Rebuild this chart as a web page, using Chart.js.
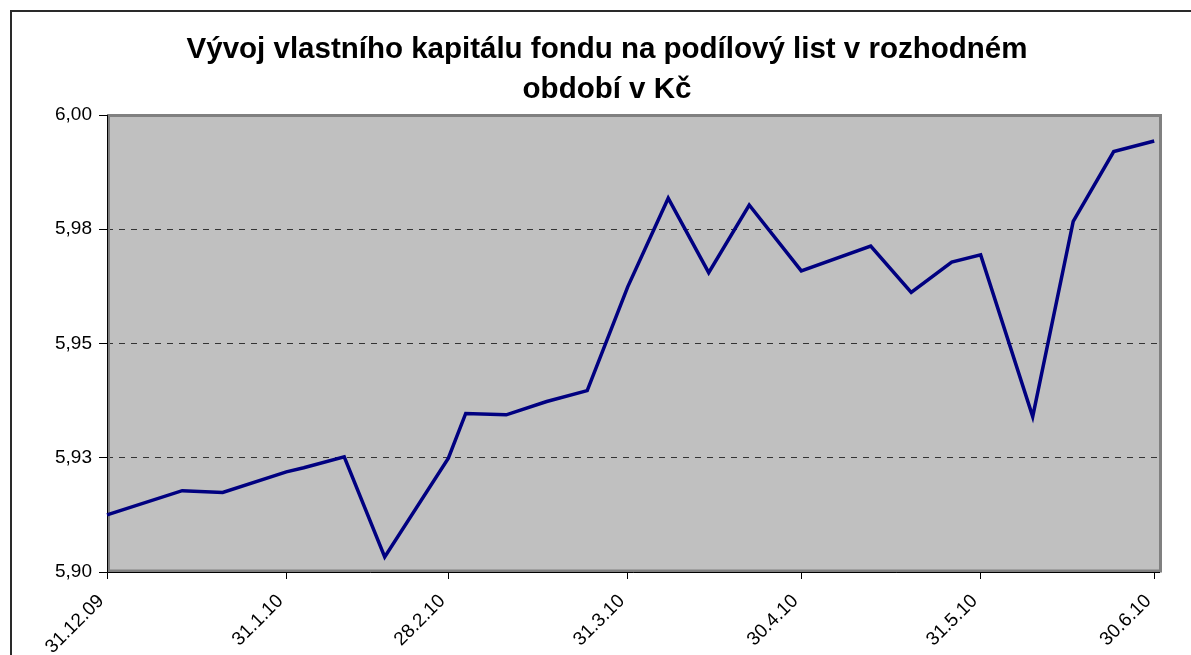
<!DOCTYPE html>
<html>
<head>
<meta charset="utf-8">
<script src="https://cdn.jsdelivr.net/npm/chart.js@4"></script>
<style>
  html, body { margin: 0; padding: 0; background: #fff; }
  #wrap { width: 1191px; height: 655px; position: relative; }
</style>
</head>
<body>
<div id="wrap"><canvas id="chart"></canvas></div>
<script>
// data (weekly Wednesday values plus month ends)
const startDate   = "2009-12-31";
const endDate     = "2010-07-01";
const pointDates  = ["2009-12-31", "2010-01-13", "2010-01-20", "2010-01-31", "2010-02-03", "2010-02-10",
                     "2010-02-17", "2010-02-28", "2010-03-03", "2010-03-10", "2010-03-17", "2010-03-24",
                     "2010-03-31", "2010-04-07", "2010-04-14", "2010-04-21", "2010-04-30", "2010-05-12",
                     "2010-05-19", "2010-05-26", "2010-05-31", "2010-06-09", "2010-06-16", "2010-06-23",
                     "2010-06-30"];
const navValues   = [5.9125, 5.9178, 5.9174, 5.9219, 5.9228, 5.9252,
                     5.9033, 5.9249, 5.9347, 5.9344, 5.9373, 5.9397,
                     5.9624, 5.9818, 5.9655, 5.9803, 5.9659, 5.9713,
                     5.9612, 5.9678, 5.9694, 5.9340, 5.9767, 5.9920,
                     5.9943];
const tickDates   = ["2009-12-31", "2010-01-31", "2010-02-28", "2010-03-31", "2010-04-30", "2010-05-31", "2010-06-30"];
const tickLabels  = ["31.12.09", "31.1.10", "28.2.10", "31.3.10", "30.4.10", "31.5.10", "30.6.10"];
const yTicks      = [5.90, 5.925, 5.95, 5.975, 6.00];
const yTickLabels = ["5,90", "5,93", "5,95", "5,98", "6,00"];
const titleLines  = ["Vývoj vlastního kapitálu fondu na podílový list v rozhodném", "období v Kč"];

const dayOf = d => (Date.parse(d) - Date.parse(startDate)) / 86400000;

const NAVY  = "#000080";
const PLOT  = "#c0c0c0";
const FONT  = "'Liberation Sans', Arial, sans-serif";

// grey plot area + outer frame like the Excel original
const excelFrame = {
  id: "excelFrame",
  beforeDraw(chart) {
    const { ctx, chartArea: a } = chart;
    ctx.save();
    ctx.fillStyle = PLOT;
    ctx.fillRect(a.left, a.top, a.right - a.left, a.bottom - a.top);
    ctx.restore();
  },
  beforeDatasetsDraw(chart) {
    const { ctx, chartArea: a } = chart;
    ctx.save();
    ctx.strokeStyle = "#808080";
    ctx.lineWidth = 3;
    ctx.strokeRect(a.left + 1.5, a.top + 0.5, a.right - a.left - 1, a.bottom - a.top - 1.5);
    ctx.strokeStyle = "#000";
    ctx.lineWidth = 1;
    ctx.beginPath();
    ctx.moveTo(a.left + 0.5, a.top);
    ctx.lineTo(a.left + 0.5, a.bottom + 0.5);
    ctx.lineTo(a.right, a.bottom + 0.5);
    ctx.stroke();
    ctx.restore();
  },
  afterDraw(chart) {
    const { ctx, width, height } = chart;
    ctx.save();
    ctx.strokeStyle = "#2a2a2a";
    ctx.lineWidth = 2;
    ctx.strokeRect(11, 11, width + 20, height + 20);
    ctx.restore();
  }
};

new Chart(document.getElementById("chart"), {
  type: "line",
  data: {
    datasets: [{
      data: pointDates.map((d, i) => ({ x: dayOf(d), y: navValues[i] })),
      borderColor: NAVY,
      borderWidth: 3.5,
      pointRadius: 0,
      tension: 0,
      fill: false,
      clip: false,
    }]
  },
  options: {
    responsive: true,
    maintainAspectRatio: false,
    animation: false,
    layout: { padding: { left: 54, right: 31, top: 0, bottom: 0 } },
    plugins: {
      legend: { display: false },
      tooltip: { enabled: false },
      title: {
        display: true,
        text: titleLines,
        color: "#000",
        font: { family: FONT, size: 29.5, weight: "bold", lineHeight: "40px" },
        padding: { top: 30, bottom: 5 }
      }
    },
    scales: {
      x: {
        type: "linear",
        min: 0,
        max: dayOf(endDate),
        afterBuildTicks: s => { s.ticks = tickDates.map(d => ({ value: dayOf(d) })); },
        afterFit: s => { s.height = 83; },
        grid: { display: true, drawOnChartArea: false, drawTicks: true, tickLength: 7, tickColor: "#000" },
        border: { display: false },
        ticks: {
          autoSkip: false,
          minRotation: 45,
          maxRotation: 45,
          padding: 11,
          labelOffset: -6,
          color: "#000",
          font: { family: FONT, size: 19 },
          callback: (v, i) => tickLabels[i]
        }
      },
      y: {
        min: 5.90,
        max: 6.00,
        afterBuildTicks: s => { s.ticks = yTicks.map(v => ({ value: v })); },
        afterFit: s => { s.width = 53; },
        grid: {
          color: c => (c.index === 0 || c.index === yTicks.length - 1) ? "rgba(0,0,0,0)" : "#333",
          lineWidth: 1,
          tickLength: 8,
          tickColor: "#000"
        },
        border: { display: false, dash: [6, 6] },
        ticks: {
          padding: 7,
          color: "#000",
          font: { family: FONT, size: 19 },
          callback: (v, i) => yTickLabels[i]
        }
      }
    }
  },
  plugins: [excelFrame]
});
</script>
</body>
</html>
